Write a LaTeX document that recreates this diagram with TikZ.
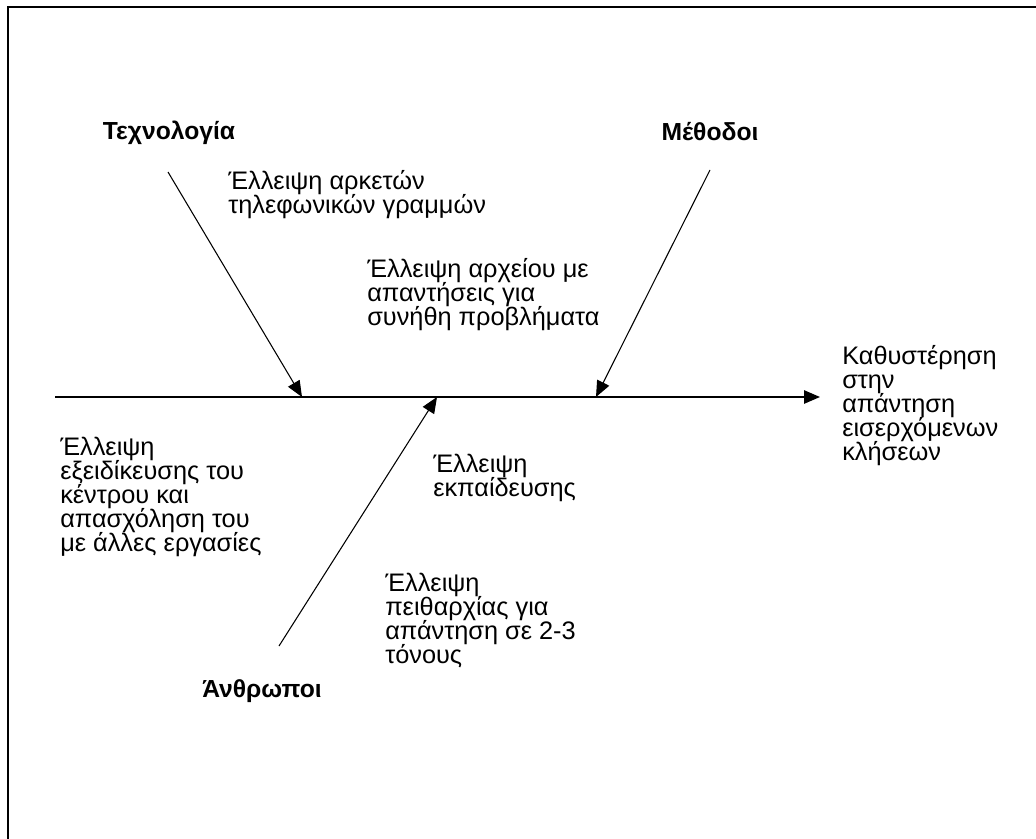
\documentclass[tikz,border=0pt]{standalone}
\usepackage{fontspec}
\setmainfont{Liberation Sans}
\usetikzlibrary{arrows.meta}
% fixed baseline distance regardless of accents
\newcommand\fixedlines{\lineskiplimit=-100pt\relax\lineskip=0pt\relax}
\begin{document}
\begin{tikzpicture}[x=0.75pt,y=-0.75pt,
  txt/.style={anchor=west,align=left,inner sep=0pt,
    font=\fontsize{19}{18}\selectfont\fixedlines},
  cat/.style={inner sep=0pt,font=\fontsize{18.5}{20}\selectfont\bfseries},
  bone/.style={line width=0.8pt,-{Triangle[length=12pt,width=10pt]}},
  spine/.style={line width=1.3pt,-{Triangle[length=12pt,width=10pt]}}]
\useasboundingbox (0,0) rectangle (1036,839);
\clip (0,0) rectangle (1036,839);
% page frame
\draw[line width=1.5pt] (8,7) rectangle (1060,870);

% category headings
\node[cat] (tech) at (169,133) {Τεχνολογία};
\node[cat] (meth) at (710,132) {Μέθοδοι};
\node[cat] (people) at (262,691) {Άνθρωποι};

% causes and effect
\node[txt] (c1) at (228,195) {Έλλειψη αρκετών\\τηλεφωνικών γραμμών};
\node[txt] (c2) at (367,295) {Έλλειψη αρχείου με\\απαντήσεις για\\συνήθη προβλήματα};
\node[txt] (effect) at (842,406) {Καθυστέρηση\\στην\\απάντηση\\εισερχόμενων\\κλήσεων};
\node[txt] (c3) at (60,497) {Έλλειψη\\εξειδίκευσης του\\κέντρου και\\απασχόληση του\\με άλλες εργασίες};
\node[txt] (c4) at (433,478) {Έλλειψη\\εκπαίδευσης};
\node[txt] (c5) at (385,620) {Έλλειψη\\πειθαρχίας για\\απάντηση σε 2-3\\τόνους};

% spine and bones
\coordinate (tail) at (55,397);
\coordinate (head) at (820,397);
\coordinate (t0) at (168,172);
\coordinate (t1) at (302,397);
\coordinate (m0) at (710,170);
\coordinate (m1) at (596,397);
\coordinate (p0) at (279,646);
\coordinate (p1) at (437,397);
\draw[spine] (tail) -- (head);
\draw[bone] (t0) -- (t1);
\draw[bone] (m0) -- (m1);
\draw[bone] (p0) -- (p1);
\end{tikzpicture}
\end{document}
